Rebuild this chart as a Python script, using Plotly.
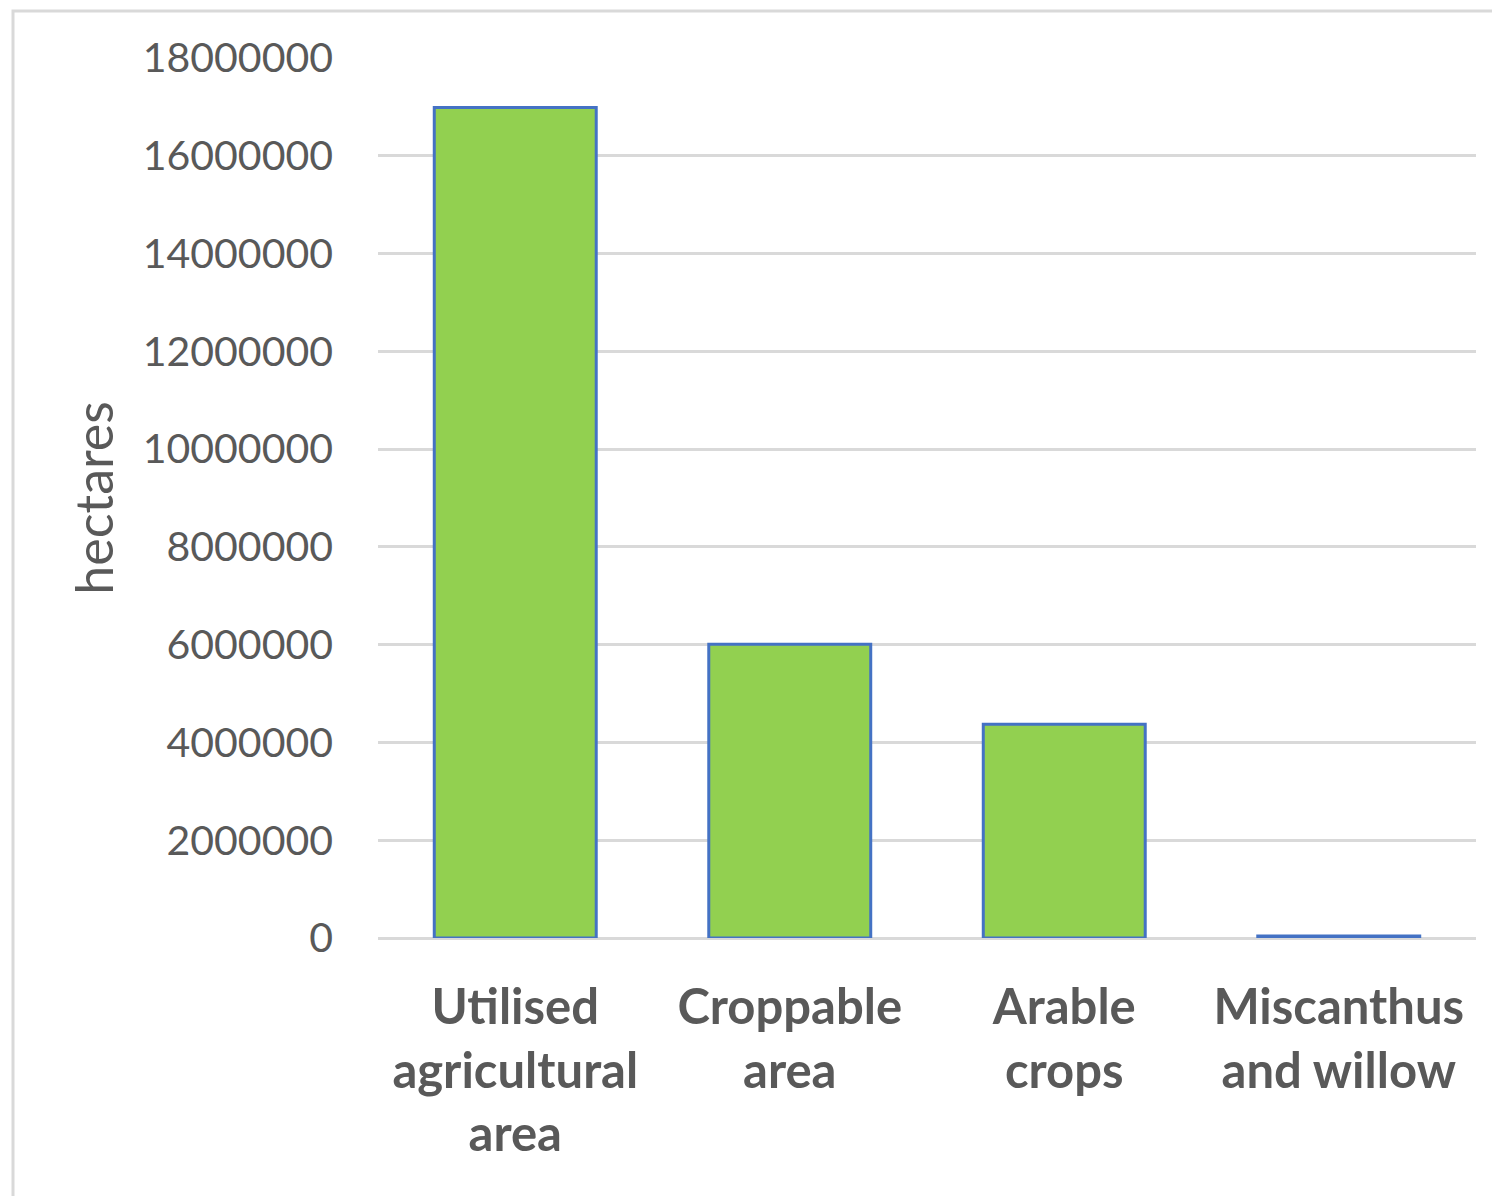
import plotly.graph_objects as go

categories = ["Utilised<br>agricultural<br>area", "Croppable<br>area", "Arable<br>crops", "Miscanthus<br>and willow"]
hectares = [16990000, 6010000, 4370000, 40000]
y_ticks = [0, 2000000, 4000000, 6000000, 8000000, 10000000, 12000000, 14000000, 16000000, 18000000]

W, H = 1500, 1196
OFF = 8  # page body margin
ML, MR, MT, MB = 378 - OFF, 24 + OFF, 58 - OFF, 258 + OFF
pw, ph = W - ML - MR, H - MT - MB

def px_x(p):
    return (p - OFF - ML) / pw

def px_y(p):
    return (H - MB - (p - OFF)) / ph

fig = go.Figure(go.Bar(
    x=categories, y=hectares,
    marker=dict(color="#92d050", line=dict(color="#4472c4", width=3)),
    width=0.59,
))

fig.update_layout(
    width=W, height=H,
    margin=dict(l=ML, r=MR, t=MT, b=MB),
    paper_bgcolor="white", plot_bgcolor="white",
    showlegend=False,
    font=dict(family="Lato, Liberation Sans, sans-serif", color="#595959"),
    bargap=0.41,
)
fig.update_xaxes(
    showgrid=False, showline=False, ticks="",
    tickfont=dict(size=49, family="Lato, Liberation Sans, sans-serif", color="#595959", weight="bold"),
    ticklabelstandoff=36,
)
fig.update_yaxes(
    range=[0, 18000000], tickvals=y_ticks, ticktext=[str(v) for v in y_ticks],
    showgrid=True, gridcolor="#d9d9d9", gridwidth=3,
    zeroline=True, zerolinecolor="#d9d9d9", zerolinewidth=3,
    showline=False, ticks="",
    tickfont=dict(size=41, color="#595959"),
    ticklabelstandoff=44,
    title=dict(text="hectares", font=dict(size=52, color="#595959"), standoff=12),
    automargin=False,
)
fig.add_shape(type="rect", xref="paper", yref="paper",
              x0=px_x(13), x1=px_x(1520), y0=px_y(1220), y1=px_y(11),
              line=dict(color="#d9d9d9", width=3), fillcolor="rgba(0,0,0,0)", layer="below")

fig.write_html("out.html")
